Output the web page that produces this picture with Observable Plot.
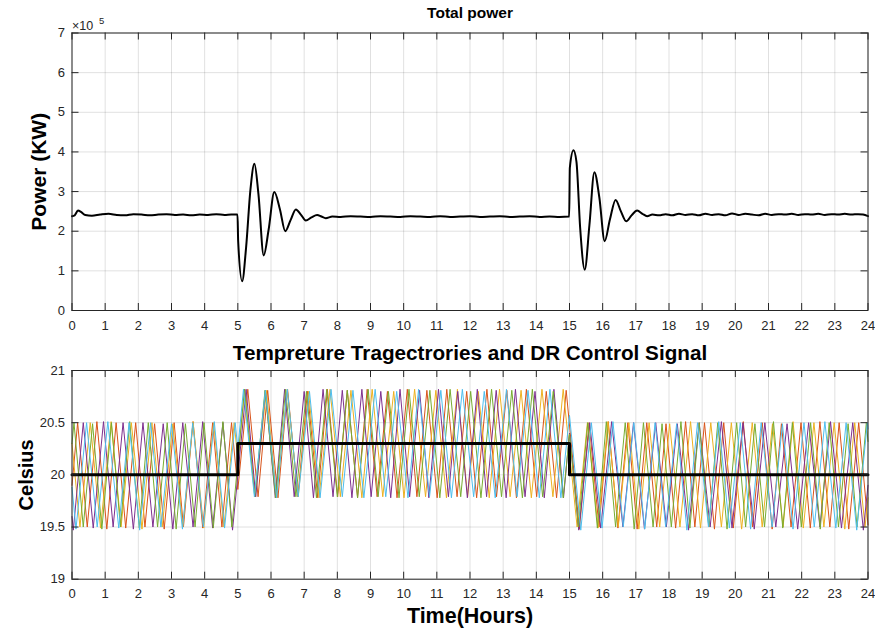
<!DOCTYPE html>
<html><head><meta charset="utf-8">
<script src="https://cdn.jsdelivr.net/npm/d3@7"></script>
<script src="https://cdn.jsdelivr.net/npm/@observablehq/plot@0.6"></script>
<style>
body{margin:0;background:#fff;}
#chart{position:relative;width:875px;height:631px;background:#fff;}
#chart svg{position:absolute;left:0;}
</style></head><body><div id="chart"></div>
<script>
// ---------- data ----------
const hourTicks = d3.range(0, 25);
const powerTicks = [0, 1e5, 2e5, 3e5, 4e5, 5e5, 6e5, 7e5];
const tempTicks = [19, 19.5, 20, 20.5, 21];

// Total power [hour, KW]
const powerSeries = [
[0,2.38e5],[0.08,2.40e5],[0.18,2.52e5],[0.28,2.48e5],[0.4,2.41e5],[0.6,2.39e5],[0.85,2.42e5],[1.1,2.44e5],[1.35,2.41e5],[1.6,2.40e5],[1.85,2.43e5],[2.1,2.42e5],[2.35,2.40e5],[2.6,2.42e5],[2.85,2.43e5],[3.1,2.41e5],[3.35,2.42e5],[3.6,2.40e5],[3.85,2.42e5],[4.1,2.41e5],[4.35,2.43e5],[4.6,2.41e5],[4.8,2.42e5],[4.99,2.42e5],
[5.01,1.75e5],[5.13,0.74e5],[5.25,1.6e5],[5.38,3.05e5],[5.5,3.7e5],[5.62,2.95e5],[5.78,1.39e5],[5.93,2.05e5],[6.1,2.99e5],[6.27,2.55e5],[6.43,2.0e5],[6.59,2.28e5],[6.75,2.55e5],[6.9,2.42e5],[7.05,2.27e5],[7.22,2.35e5],[7.39,2.41e5],[7.52,2.37e5],[7.65,2.33e5],[7.85,2.37e5],[8.1,2.36e5],[8.4,2.38e5],[8.7,2.37e5],[9.0,2.36e5],[9.3,2.38e5],[9.6,2.37e5],[9.9,2.36e5],[10.2,2.38e5],[10.5,2.37e5],[10.8,2.36e5],[11.1,2.38e5],[11.4,2.36e5],[11.7,2.37e5],[12.0,2.38e5],[12.3,2.36e5],[12.6,2.37e5],[12.9,2.38e5],[13.2,2.36e5],[13.5,2.37e5],[13.8,2.38e5],[14.1,2.36e5],[14.4,2.37e5],[14.7,2.36e5],[14.99,2.37e5],
[15.01,3.6e5],[15.12,4.04e5],[15.21,3.75e5],[15.32,2.1e5],[15.46,1.03e5],[15.6,2.15e5],[15.75,3.49e5],[15.9,2.85e5],[16.06,1.75e5],[16.22,2.3e5],[16.39,2.79e5],[16.55,2.5e5],[16.71,2.25e5],[16.87,2.4e5],[17.04,2.52e5],[17.2,2.44e5],[17.34,2.38e5],[17.5,2.42e5],
[17.7,2.40e5],[17.9,2.43e5],[18.1,2.40e5],[18.3,2.44e5],[18.5,2.41e5],[18.7,2.43e5],[18.9,2.40e5],[19.1,2.44e5],[19.3,2.41e5],[19.5,2.43e5],[19.7,2.40e5],[19.9,2.45e5],[20.1,2.41e5],[20.3,2.44e5],[20.5,2.42e5],[20.7,2.40e5],[20.9,2.44e5],[21.1,2.41e5],[21.3,2.43e5],[21.5,2.42e5],[21.7,2.44e5],[21.9,2.41e5],[22.1,2.43e5],[22.3,2.42e5],[22.5,2.44e5],[22.7,2.41e5],[22.9,2.43e5],[23.1,2.42e5],[23.3,2.44e5],[23.5,2.42e5],[23.7,2.43e5],[23.85,2.42e5],[24,2.38e5]
];

// Temperature trajectories [hour, Celsius]
const orangeTemp = [[0,19.9],[0.17,20.5],[0.46,19.5],[0.75,20.51],[1.05,19.48],[1.33,20.5],[1.62,19.49],[1.92,20.5],[2.2,19.5],[2.49,20.49],[2.78,19.48],[3.08,20.5],[3.36,19.5],[3.65,20.51],[3.94,19.49],[4.24,20.5],[4.52,19.5],[4.81,20.5],[5.0,19.86],[5.3,20.82],[5.61,19.79],[5.9,20.81],[6.21,19.78],[6.5,20.82],[6.81,19.79],[7.1,20.8],[7.41,19.78],[7.7,20.82],[8.01,19.79],[8.3,20.81],[8.61,19.78],[8.9,20.82],[9.2,19.79],[9.51,20.8],[9.8,19.78],[10.11,20.82],[10.4,19.79],[10.7,20.81],[11.01,19.78],[11.3,20.82],[11.61,19.79],[11.9,20.8],[12.2,19.78],[12.51,20.82],[12.8,19.79],[13.11,20.81],[13.4,19.78],[13.7,20.82],[14.01,19.79],[14.3,20.8],[14.61,19.78],[14.9,20.81],[15.3,19.48],[15.59,20.5],[15.89,19.5],[16.17,20.51],[16.46,19.49],[16.76,20.5],[17.04,19.48],[17.33,20.5],[17.63,19.5],[17.91,20.49],[18.2,19.49],[18.5,20.51],[18.78,19.5],[19.07,20.5],[19.37,19.48],[19.65,20.5],[19.94,19.49],[20.24,20.51],[20.52,19.5],[20.81,20.5],[21.11,19.48],[21.39,20.49],[21.68,19.5],[21.98,20.5],[22.26,19.49],[22.55,20.51],[22.85,19.5],[23.13,20.5],[23.42,19.48],[23.72,20.5],[24,19.52]];
const yellowTemp = [[0,20.3],[0.24,19.5],[0.55,20.5],[0.86,19.49],[1.18,20.51],[1.48,19.5],[1.79,20.5],[2.11,19.48],[2.41,20.5],[2.72,19.5],[3.04,20.49],[3.34,19.5],[3.65,20.51],[3.97,19.49],[4.27,20.5],[4.58,19.5],[4.89,20.5],[5.0,20.15],[5.21,20.82],[5.53,19.79],[5.86,20.81],[6.17,19.78],[6.49,20.82],[6.82,19.79],[7.13,20.8],[7.45,19.78],[7.78,20.82],[8.09,19.79],[8.41,20.81],[8.74,19.78],[9.05,20.82],[9.37,19.79],[9.7,20.8],[10.01,19.78],[10.33,20.82],[10.66,19.79],[10.97,20.81],[11.29,19.78],[11.62,20.82],[11.93,19.79],[12.25,20.8],[12.58,19.78],[12.89,20.82],[13.21,19.79],[13.54,20.81],[13.85,19.78],[14.17,20.82],[14.5,19.79],[14.81,20.82],[15.23,19.5],[15.54,20.5],[15.86,19.49],[16.16,20.51],[16.47,19.5],[16.79,20.5],[17.09,19.48],[17.4,20.5],[17.72,19.5],[18.02,20.49],[18.33,19.5],[18.65,20.51],[18.95,19.49],[19.26,20.5],[19.58,19.5],[19.88,20.5],[20.19,19.48],[20.51,20.5],[20.81,19.5],[21.12,20.49],[21.44,19.5],[21.74,20.51],[22.05,19.49],[22.37,20.5],[22.67,19.5],[22.98,20.5],[23.3,19.48],[23.6,20.5],[23.91,19.5],[24,19.78]];
const purpleTemp = [[0,19.6],[0.04,19.47],[0.34,20.5],[0.64,19.49],[0.95,20.51],[1.24,19.5],[1.54,20.5],[1.85,19.48],[2.14,20.5],[2.44,19.5],[2.75,20.49],[3.04,19.48],[3.34,20.5],[3.65,19.5],[3.94,20.51],[4.24,19.49],[4.55,20.5],[4.84,19.47],[5.25,20.82],[5.54,19.79],[5.83,20.81],[6.13,19.78],[6.41,20.82],[6.7,19.79],[7.0,20.8],[7.28,19.78],[7.57,20.82],[7.87,19.79],[8.15,20.81],[8.44,19.78],[8.74,20.82],[9.02,19.79],[9.31,20.8],[9.61,19.78],[9.89,20.82],[10.18,19.79],[10.48,20.81],[10.76,19.78],[11.05,20.82],[11.35,19.79],[11.63,20.8],[11.92,19.78],[12.22,20.82],[12.5,19.79],[12.79,20.81],[13.09,19.78],[13.37,20.82],[13.66,19.79],[13.96,20.8],[14.24,19.78],[14.53,20.82],[14.82,19.78],[15.0,20.4],[15.28,19.47],[15.61,20.5],[15.94,19.49],[16.27,20.51],[16.61,19.5],[16.93,20.5],[17.26,19.48],[17.6,20.5],[17.92,19.5],[18.25,20.49],[18.59,19.47],[18.91,20.5],[19.24,19.5],[19.58,20.51],[19.9,19.49],[20.23,20.5],[20.57,19.48],[20.89,20.5],[21.22,19.5],[21.56,20.49],[21.88,19.48],[22.21,20.5],[22.55,19.5],[22.87,20.51],[23.2,19.49],[23.54,20.5],[23.86,19.47],[24,19.9]];
const greenTemp = [[0,20.3],[0.06,20.5],[0.34,19.5],[0.62,20.49],[0.9,19.48],[1.19,20.5],[1.46,19.5],[1.74,20.51],[2.03,19.49],[2.3,20.5],[2.58,19.5],[2.87,20.5],[3.14,19.48],[3.42,20.49],[3.71,19.5],[3.98,20.5],[4.26,19.49],[4.55,20.51],[4.82,19.5],[5.2,20.82],[5.51,19.79],[5.82,20.81],[6.14,19.78],[6.44,20.82],[6.75,19.79],[7.07,20.8],[7.37,19.78],[7.68,20.82],[8.0,19.79],[8.3,20.81],[8.61,19.78],[8.93,20.82],[9.23,19.79],[9.54,20.8],[9.86,19.78],[10.16,20.82],[10.47,19.79],[10.79,20.81],[11.09,19.78],[11.4,20.82],[11.72,19.79],[12.02,20.8],[12.33,19.78],[12.65,20.82],[12.95,19.79],[13.26,20.81],[13.58,19.78],[13.88,20.82],[14.19,19.79],[14.51,20.8],[14.81,19.78],[15.0,20.39],[15.27,19.5],[15.55,20.5],[15.84,19.49],[16.11,20.51],[16.39,19.5],[16.68,20.5],[16.95,19.48],[17.23,20.5],[17.52,19.5],[17.79,20.49],[18.07,19.5],[18.36,20.51],[18.63,19.49],[18.91,20.5],[19.2,19.5],[19.47,20.5],[19.75,19.48],[20.04,20.5],[20.31,19.5],[20.59,20.49],[20.88,19.5],[21.15,20.51],[21.43,19.49],[21.72,20.5],[21.99,19.5],[22.27,20.5],[22.56,19.48],[22.83,20.5],[23.11,19.5],[23.4,20.49],[23.67,19.5],[23.95,20.5],[24,20.32]];
const cyanTemp = [[0,19.88],[0.12,19.48],[0.44,20.5],[0.76,19.5],[1.08,20.51],[1.41,19.49],[1.72,20.5],[2.04,19.47],[2.37,20.5],[2.68,19.5],[3.0,20.49],[3.33,19.48],[3.64,20.5],[3.96,19.5],[4.29,20.51],[4.6,19.49],[4.92,20.5],[5.0,20.25],[5.17,20.82],[5.5,19.79],[5.83,20.81],[6.17,19.78],[6.49,20.82],[6.82,19.79],[7.16,20.8],[7.48,19.78],[7.81,20.82],[8.15,19.79],[8.47,20.81],[8.8,19.78],[9.14,20.82],[9.46,19.79],[9.79,20.8],[10.13,19.78],[10.45,20.82],[10.78,19.79],[11.12,20.81],[11.44,19.78],[11.77,20.82],[12.11,19.79],[12.43,20.8],[12.76,19.78],[13.1,20.82],[13.42,19.79],[13.75,20.81],[14.09,19.78],[14.41,20.82],[14.74,19.78],[15.0,20.57],[15.34,19.47],[15.66,20.5],[15.98,19.49],[16.31,20.51],[16.62,19.5],[16.94,20.5],[17.27,19.48],[17.58,20.5],[17.9,19.5],[18.23,20.49],[18.54,19.47],[18.86,20.5],[19.19,19.5],[19.5,20.51],[19.82,19.49],[20.15,20.5],[20.46,19.48],[20.78,20.5],[21.11,19.5],[21.42,20.49],[21.74,19.48],[22.07,20.5],[22.38,19.5],[22.7,20.51],[23.03,19.49],[23.34,20.5],[23.66,19.47],[23.98,20.5],[24,20.44]];

// DR control signal (setpoint)
const drSignal = [[0,20],[5,20],[5,20.3],[15,20.3],[15,20],[24,20]];

const tempSeries = [
  {data: orangeTemp, color: "#D95319"},
  {data: yellowTemp, color: "#EDB120"},
  {data: purpleTemp, color: "#7E2F8E"},
  {data: greenTemp, color: "#77AC30"},
  {data: cyanTemp, color: "#4DBEEE"}
];

// ---------- layout ----------
const W = 875;
const font = "'Liberation Sans', Arial, Helvetica, sans-serif";
const axisColor = "#262626";
const TL = 7;

function boxTicks(xt, yt, innerW, innerH) {
  return [
    Plot.tickX(xt, {x: d => d, insetTop: innerH - TL, stroke: axisColor}),
    Plot.tickX(xt, {x: d => d, insetBottom: innerH - TL, stroke: axisColor}),
    Plot.tickY(yt, {y: d => d, insetRight: innerW - TL, stroke: axisColor}),
    Plot.tickY(yt, {y: d => d, insetLeft: innerW - TL, stroke: axisColor}),
    Plot.frame({stroke: axisColor, strokeWidth: 1})
  ];
}
function label(str, opts) {
  return Plot.text([str], {text: d => d, lineAnchor: "middle", textAnchor: "middle", ...opts});
}

// Top chart
const m1 = {top: 32.5, right: 7.5, bottom: 30, left: 71.5};
const h1 = 340;
const iw = W - m1.left - m1.right;
const ih1 = h1 - m1.top - m1.bottom;
const topChart = Plot.plot({
  width: W, height: h1,
  marginTop: m1.top, marginRight: m1.right, marginBottom: m1.bottom, marginLeft: m1.left,
  x: {domain: [0, 24]},
  y: {domain: [0, 7e5]},
  style: {fontFamily: font, fontSize: "13px", color: axisColor, background: "transparent", overflow: "visible"},
  marks: [
    Plot.gridX(hourTicks, {stroke: "#000", strokeOpacity: 0.12}),
    Plot.gridY(powerTicks, {stroke: "#000", strokeOpacity: 0.12}),
    Plot.line(powerSeries, {x: d => d[0], y: d => d[1], stroke: "#000", strokeWidth: 2, curve: "monotone-x"}),
    ...boxTicks(hourTicks, powerTicks, iw, ih1),
    Plot.axisX(hourTicks, {tickSize: 0, tickPadding: 10, label: null, fontSize: 13}),
    Plot.axisY(powerTicks, {tickSize: 0, tickPadding: 7, label: null, fontSize: 13, tickFormat: d => String(d / 1e5)}),
    label("Total power", {frameAnchor: "top", dy: -19.5, fontWeight: "bold", fontSize: 15.5, fill: "#000"}),
    label("×10", {frameAnchor: "top-left", textAnchor: "start", dx: 0, dy: -7.5, fontSize: 12.5, fill: axisColor}),
    label("5", {frameAnchor: "top-left", textAnchor: "start", dx: 27, dy: -12.5, fontSize: 9.5, fill: axisColor}),
    label("Power (KW)", {frameAnchor: "left", rotate: -90, dx: -32.5, fontWeight: "bold", fontSize: 21, fill: "#000"})
  ]
});
topChart.style.top = "0px";

// Bottom chart
const m2 = {top: 30, right: 7.5, bottom: 52.3, left: 71.5};
const h2 = 291;
const ih2 = h2 - m2.top - m2.bottom;
const bottomChart = Plot.plot({
  width: W, height: h2,
  marginTop: m2.top, marginRight: m2.right, marginBottom: m2.bottom, marginLeft: m2.left,
  x: {domain: [0, 24]},
  y: {domain: [19, 21]},
  style: {fontFamily: font, fontSize: "13px", color: axisColor, background: "transparent", overflow: "visible"},
  marks: [
    Plot.gridX(hourTicks, {stroke: "#000", strokeOpacity: 0.12}),
    Plot.gridY(tempTicks, {stroke: "#000", strokeOpacity: 0.12}),
    ...tempSeries.map(s => Plot.line(s.data, {x: d => d[0], y: d => d[1], stroke: s.color, strokeWidth: 1})),
    Plot.line(drSignal, {x: d => d[0], y: d => d[1], stroke: "#000", strokeWidth: 3}),
    ...boxTicks(hourTicks, tempTicks, iw, ih2),
    Plot.axisX(hourTicks, {tickSize: 0, tickPadding: 10, label: null, fontSize: 13}),
    Plot.axisY(tempTicks, {tickSize: 0, tickPadding: 7, label: null, fontSize: 13, tickFormat: d => String(d)}),
    label("Tempreture Tragectrories and DR Control Signal", {frameAnchor: "top", dy: -17, fontWeight: "bold", fontSize: 20.7, fill: "#000"}),
    label("Celsius", {frameAnchor: "left", rotate: -90, dx: -45.5, fontWeight: "bold", fontSize: 20, fill: "#000"}),
    label("Time(Hours)", {frameAnchor: "bottom", dy: 37.3, fontWeight: "bold", fontSize: 21.5, fill: "#000"})
  ]
});
bottomChart.style.top = "340px";

const chart = document.getElementById("chart");
chart.appendChild(topChart);
chart.appendChild(bottomChart);
</script></body></html>
